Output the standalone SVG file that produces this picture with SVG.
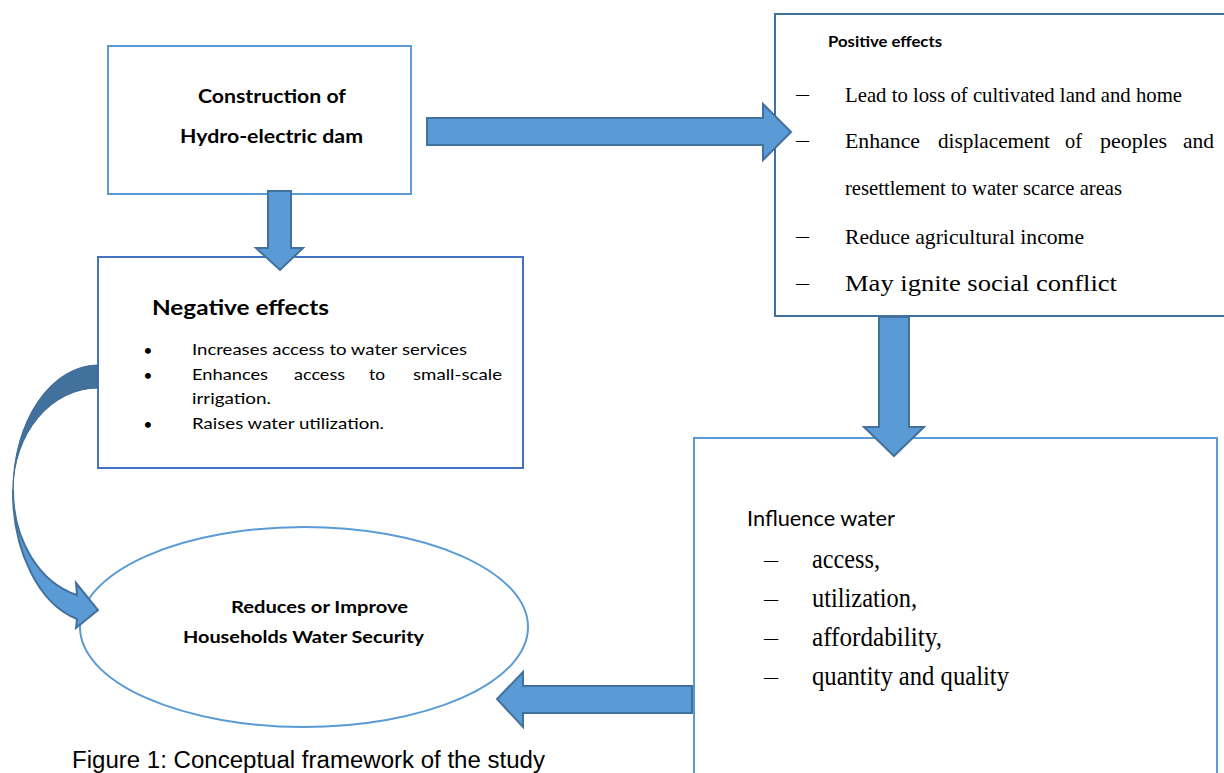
<svg xmlns="http://www.w3.org/2000/svg" width="1224" height="773" viewBox="0 0 1224 773">
<style>
.box{fill:#fff;stroke-width:2}
.arr{fill:#5B9BD5;stroke:#41719C;stroke-width:2;stroke-linejoin:miter}
.sans{font-family:Lato,"Liberation Sans",sans-serif;fill:#000}
.b{font-weight:bold}
.serif{font-family:"Liberation Serif","Times New Roman",serif;fill:#000}
.cap{font-family:"Liberation Sans",Arial,sans-serif;fill:#000}
</style>
<rect width="1224" height="773" fill="#fff"/>

<g id="construction">
<rect class="box" x="108" y="46" width="303" height="148" stroke="#5B9BD5"/>
<text class="sans b" x="198" y="103" font-size="18" textLength="148" lengthAdjust="spacingAndGlyphs">Construction of</text>
<text class="sans b" x="180" y="143" font-size="18" textLength="183" lengthAdjust="spacingAndGlyphs">Hydro-electric dam</text>
</g>

<g id="positive">
<rect class="box" x="775" y="14" width="470" height="302" stroke="#41719C"/>
<text class="sans b" x="828" y="47" font-size="16" textLength="114" lengthAdjust="spacingAndGlyphs">Positive effects</text>
<g class="serif" font-size="22">
<text x="796" y="101" font-size="20" textLength="13" lengthAdjust="spacingAndGlyphs">–</text>
<text x="796" y="147" font-size="20" textLength="13" lengthAdjust="spacingAndGlyphs">–</text>
<text x="796" y="243" font-size="20" textLength="13" lengthAdjust="spacingAndGlyphs">–</text>
<text x="796" y="290" font-size="20" textLength="13" lengthAdjust="spacingAndGlyphs">–</text>
<text x="845" y="102" textLength="337" lengthAdjust="spacingAndGlyphs">Lead to loss of cultivated land and home</text>
<text x="845" y="148" textLength="75" lengthAdjust="spacingAndGlyphs">Enhance</text>
<text x="938" y="148" textLength="112" lengthAdjust="spacingAndGlyphs">displacement</text>
<text x="1065" y="148" textLength="17" lengthAdjust="spacingAndGlyphs">of</text>
<text x="1100" y="148" textLength="67" lengthAdjust="spacingAndGlyphs">peoples</text>
<text x="1183" y="148" textLength="31" lengthAdjust="spacingAndGlyphs">and</text>
<text x="845" y="195" textLength="277" lengthAdjust="spacingAndGlyphs">resettlement to water scarce areas</text>
<text x="845" y="244" textLength="239" lengthAdjust="spacingAndGlyphs">Reduce agricultural income</text>
<text x="845" y="291" font-size="24" textLength="272" lengthAdjust="spacingAndGlyphs">May ignite social conflict</text>
</g>
</g>

<g id="negative">
<rect class="box" x="98" y="257" width="425" height="211" stroke="#4472C4"/>
<text class="sans b" x="152" y="315" font-size="21" textLength="177" lengthAdjust="spacingAndGlyphs">Negative effects</text>
<g class="sans" font-size="16">
<text x="148" y="356" text-anchor="middle">•</text>
<text x="148" y="381" text-anchor="middle">•</text>
<text x="148" y="430" text-anchor="middle">•</text>
<text x="192" y="355" textLength="275" lengthAdjust="spacingAndGlyphs">Increases access to water services</text>
<text x="192" y="380" textLength="76" lengthAdjust="spacingAndGlyphs">Enhances</text>
<text x="294" y="380" textLength="51" lengthAdjust="spacingAndGlyphs">access</text>
<text x="369" y="380" textLength="16" lengthAdjust="spacingAndGlyphs">to</text>
<text x="413" y="380" textLength="89" lengthAdjust="spacingAndGlyphs">small-scale</text>
<text x="192" y="404" textLength="79" lengthAdjust="spacingAndGlyphs">irrigation.</text>
<text x="192" y="429" textLength="192" lengthAdjust="spacingAndGlyphs">Raises water utilization.</text>
</g>
</g>

<g id="influence">
<rect class="box" x="694" y="438" width="523" height="350" stroke="#5B9BD5"/>
<text class="sans" x="747" y="526" font-size="21" textLength="148" lengthAdjust="spacingAndGlyphs">Influence  water</text>
<g class="serif" font-size="27">
<text x="764" y="567" font-size="20" textLength="14" lengthAdjust="spacingAndGlyphs">–</text>
<text x="764" y="606" font-size="20" textLength="14" lengthAdjust="spacingAndGlyphs">–</text>
<text x="764" y="645" font-size="20" textLength="14" lengthAdjust="spacingAndGlyphs">–</text>
<text x="764" y="684" font-size="20" textLength="14" lengthAdjust="spacingAndGlyphs">–</text>
<text x="812" y="568" textLength="68" lengthAdjust="spacingAndGlyphs">access,</text>
<text x="812" y="607" textLength="105" lengthAdjust="spacingAndGlyphs">utilization,</text>
<text x="812" y="646" textLength="130" lengthAdjust="spacingAndGlyphs">affordability,</text>
<text x="812" y="685" textLength="197" lengthAdjust="spacingAndGlyphs">quantity and quality</text>
</g>
</g>

<g id="security">
<ellipse cx="304" cy="627" rx="224" ry="100" fill="#fff" stroke="#5B9BD5" stroke-width="2"/>
<text class="sans b" x="231" y="613" font-size="17" textLength="177" lengthAdjust="spacingAndGlyphs">Reduces or Improve</text>
<text class="sans b" x="183" y="643" font-size="17" textLength="241" lengthAdjust="spacingAndGlyphs">Households Water Security</text>
</g>

<g id="connectors">
<path class="arr" d="M268,191 L291,191 L291,248 L303,248 L280,270 L256,248 L268,248 Z"/>
<path class="arr" d="M427,118 L763,118 L763,104 L791,132 L763,160 L763,145 L427,145 Z"/>
<path class="arr" d="M879,317 L909,317 L909,427 L924,427 L894,456 L864,427 L879,427 Z"/>
<path class="arr" d="M692,686 L523,686 L523,672 L497,699 L523,727 L523,713 L692,713 Z"/>
<path d="M98,365 A85,125 0 0 0 13,490 A85,102 0 0 1 98,388 Z" fill="#41719C" stroke="#3C6A95" stroke-width="1"/>
<path class="arr" stroke-width="1.5" d="M13,490 A85,131 0 0 0 77,619 L76,628 L98,610 L76,583 L77,595 A85,108 0 0 1 13,490 Z"/>
</g>

<text class="cap" x="72" y="768" font-size="23" textLength="473" lengthAdjust="spacingAndGlyphs">Figure 1: Conceptual framework of the study</text>
</svg>
